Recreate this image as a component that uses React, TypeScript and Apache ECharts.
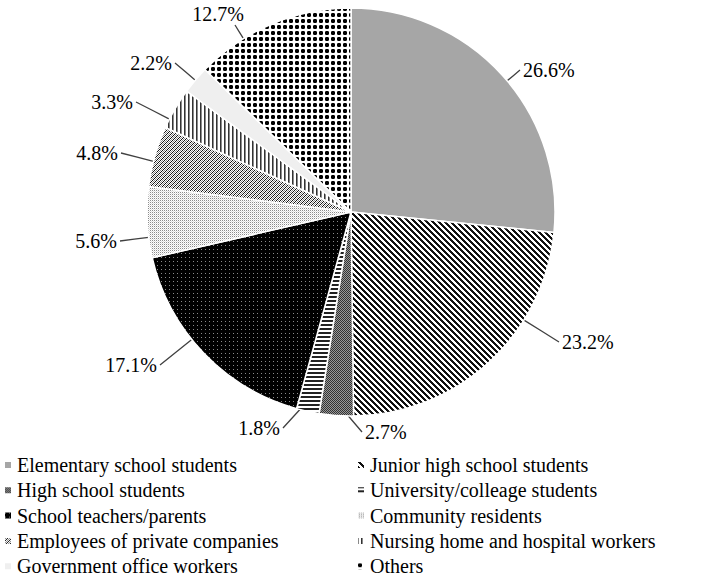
import React, { useEffect, useRef } from "react";
import * as echarts from "echarts";

const categories = [
  "Elementary school students",
  "Junior high school students",
  "High school students",
  "University/colleage students",
  "School teachers/parents",
  "Community residents",
  "Employees of private companies",
  "Nursing home and hospital workers",
  "Government office workers",
  "Others",
];
const values = [26.6, 23.2, 2.7, 1.8, 17.1, 5.6, 4.8, 3.3, 2.2, 12.7];
const leftLegend = [categories[0], categories[2], categories[4], categories[6], categories[8]];
const rightLegend = [categories[1], categories[3], categories[5], categories[7], categories[9]];

// label anchor placement (layout only): [x, y, align]
const labelPlacement: [number, number, string][] = [
  [523, 70, "left"],
  [562, 342, "left"],
  [365, 432, "left"],
  [280, 428, "right"],
  [157, 365, "right"],
  [117, 241, "right"],
  [118, 153, "right"],
  [133, 102, "right"],
  [172, 63, "right"],
  [218, 14, "center"],
];

const CENTER: [number, number] = [351, 212];
const RADIUS = 204;

type PixFn = (x: number, y: number) => string | null;

function makePattern(w: number, h: number, bg: string, fn: PixFn) {
  const c = document.createElement("canvas");
  c.width = w;
  c.height = h;
  const ctx = c.getContext("2d")!;
  ctx.fillStyle = bg;
  ctx.fillRect(0, 0, w, h);
  for (let y = 0; y < h; y++) {
    for (let x = 0; x < w; x++) {
      const col = fn(x, y);
      if (col) {
        ctx.fillStyle = col;
        ctx.fillRect(x, y, 1, 1);
      }
    }
  }
  return { image: c.toDataURL(), repeat: "repeat", imageWidth: w, imageHeight: h } as any;
}

function buildFills() {
  const junior = makePattern(6, 6, "#ffffff", (x, y) => ((((x - y) % 6) + 6) % 6 < 3 ? "#111111" : null));
  const high = makePattern(2, 2, "#999999", (x, y) => ((x + y) % 2 === 0 ? "#333333" : null));
  const univ = makePattern(4, 4, "#ffffff", (x, y) => (y < 2 ? "#222222" : null));
  const teachers = makePattern(4, 4, "#000000", (x, y) => (x === 1 && y === 1 ? "#8a8a8a" : null));
  const community = makePattern(2, 2, "#ffffff", (x, y) =>
    x === 0 && y === 0 ? "#8c8c8c" : x === 1 && y === 1 ? "#dddddd" : null
  );
  const empMap = ["BWGW", "WGWB", "GWBW", "WBWG"];
  const employees = makePattern(4, 4, "#ffffff", (x, y) => {
    const ch = empMap[y][x];
    return ch === "B" ? "#111111" : ch === "G" ? "#888888" : null;
  });
  const nursing = makePattern(4, 4, "#ffffff", (x) => (x === 0 ? "#333333" : x === 1 ? "#8a8a8a" : null));
  const others = makePattern(6, 6, "#ffffff", (x, y) => {
    const inX = x >= 1 && x <= 4;
    const inY = y >= 1 && y <= 4;
    if (!inX || !inY) return null;
    const corner = (x === 1 || x === 4) && (y === 1 || y === 4);
    return corner ? "#666666" : "#000000";
  });
  return ["#a6a6a6", junior, high, univ, teachers, community, employees, nursing, "#efefef", others];
}

function leaderLine(idx: number): number[][] {
  const total = values.reduce((a, b) => a + b, 0);
  let cum = 0;
  for (let i = 0; i < idx; i++) cum += values[i];
  // angles in degrees, math convention (ccw from +x), pie runs clockwise from 90
  const a0 = 90 - (360 * cum) / total;
  const a1 = 90 - (360 * (cum + values[idx])) / total;
  const span = a0 - a1;
  const hi = a0 - span * 0.15;
  const lo = a1 + span * 0.15;
  const [lx, ly, align] = labelPlacement[idx];
  let ex = lx;
  let ey = ly;
  if (align === "left") ex = lx - 3;
  else if (align === "right") ex = lx + 3;
  else {
    ex = lx + 17;
    ey = ly + 11;
  }
  let ang = (Math.atan2(-(ey - CENTER[1]), ex - CENTER[0]) * 180) / Math.PI;
  // bring angle into the range near the slice
  while (ang > a0 + 180) ang -= 360;
  while (ang < a0 - 180) ang += 360;
  ang = Math.max(lo, Math.min(hi, ang));
  const r = (ang * Math.PI) / 180;
  const sx = CENTER[0] + RADIUS * Math.cos(r);
  const sy = CENTER[1] - RADIUS * Math.sin(r);
  return [
    [sx, sy],
    [(sx + ex) / 2, (sy + ey) / 2],
    [ex, ey],
  ];
}

export default function App() {
  const ref = useRef<HTMLDivElement>(null);
  useEffect(() => {
    if (!ref.current) return;
    const chart = echarts.init(ref.current, null, { renderer: "svg" });
    const fills = buildFills();
    const font = "Liberation Serif";
    const legendCommon = {
      orient: "vertical" as const,
      top: 455,
      itemWidth: 8,
      itemHeight: 8,
      itemGap: 5.3,
      icon: "rect",
      selectedMode: false,
      textStyle: { fontFamily: font, fontSize: 20, color: "#000", lineHeight: 20 },
      padding: 0,
    };
    chart.setOption({
      animation: false,
      backgroundColor: "#ffffff",
      textStyle: { fontFamily: font },
      legend: [
        { ...legendCommon, left: 3, data: leftLegend },
        { ...legendCommon, left: 356, data: rightLegend },
      ],
      series: [
        {
          type: "pie",
          center: CENTER,
          radius: RADIUS,
          startAngle: 90,
          clockwise: true,
          avoidLabelOverlap: false,
          itemStyle: { borderColor: "#ffffff", borderWidth: 1.5 },
          label: {
            show: true,
            fontFamily: font,
            fontSize: 20,
            color: "#000",
            formatter: (p: any) => Number(p.value).toFixed(1) + "%",
          },
          labelLine: {
            show: true,
            length: 22,
            length2: 0,
            lineStyle: { color: "#404040", width: 1.3 },
          },
          labelLayout: (params: any) => {
            const p = labelPlacement[params.dataIndex];
            return {
              x: p[0],
              y: p[1],
              align: p[2],
              verticalAlign: "middle",
              labelLinePoints: leaderLine(params.dataIndex),
            };
          },
          emphasis: { disabled: true },
          data: categories.map((name, i) => ({
            name,
            value: values[i],
            itemStyle: { color: fills[i] },
          })),
        },
      ],
    });
    return () => chart.dispose();
  }, []);
  return (
    <div
      ref={ref}
      style={{ position: "fixed", left: 0, top: 0, width: 709, height: 579, background: "#fff" }}
    />
  );
}
